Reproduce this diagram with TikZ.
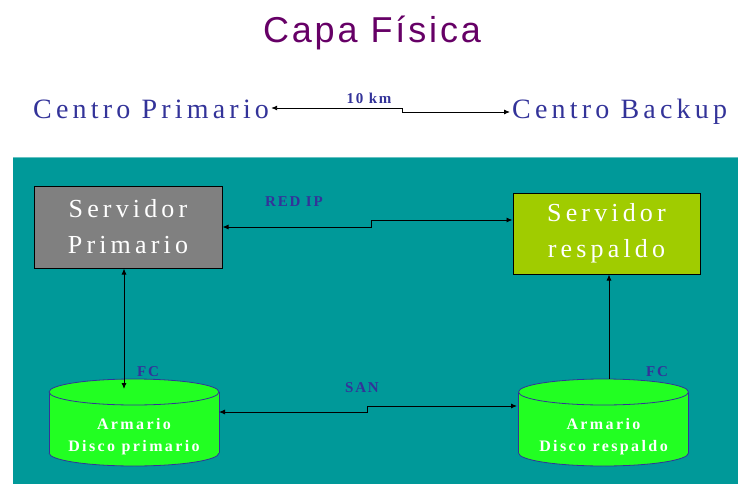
\documentclass[tikz,border=0pt]{standalone}
\usepackage{fontspec}
\setmainfont{Liberation Serif}
\newfontfamily\titlefont{Liberation Sans}[LetterSpace=8]
\newfontfamily\sitefont{Liberation Serif}[LetterSpace=15]
\newfontfamily\serverfont{Liberation Serif}[LetterSpace=16]
\newfontfamily\diskfont{Liberation Serif}[LetterSpace=15]
\newfontfamily\tagfont{Liberation Serif}[LetterSpace=12]
\usetikzlibrary{arrows.meta}

\definecolor{tealbg}{RGB}{0,153,153}
\definecolor{titlepurple}{RGB}{102,0,102}
\definecolor{labelblue}{RGB}{51,51,153}
\definecolor{srvgray}{RGB}{128,128,128}
\definecolor{srvgreen}{RGB}{160,204,0}
\definecolor{diskgreen}{RGB}{34,255,34}

\tikzset{
  link/.style={line width=0.9pt, -{Latex[length=6pt,width=5pt]}},
  dbllink/.style={line width=0.9pt, {Latex[length=6pt,width=5pt]}-{Latex[length=6pt,width=5pt]}},
  site/.style={text=labelblue, inner sep=2pt, font=\sitefont\fontsize{28}{34}\selectfont},
  server/.style={draw=black, line width=1pt, text=white, align=center,
    minimum width=188, minimum height=82, font=\serverfont\fontsize{26}{36}\selectfont},
  diskline/.style={draw=labelblue, line width=0.8pt},
  disktext/.style={text=white, align=center, font=\diskfont\bfseries\fontsize{16}{22}\selectfont},
  tag/.style={text=labelblue, font=\tagfont\bfseries\fontsize{15}{17}\selectfont}
}

\begin{document}
\begin{tikzpicture}[x=1pt,y=-1pt]
  \useasboundingbox (0,0) rectangle (738,484);

% top
  \node (title) at (372,43) [anchor=base, text=titlepurple, font=\titlefont\fontsize{36}{40}\selectfont] {Capa Física};
  \node (cp) at (31,118) [site, anchor=base west] {Centro Primario};
  \node (cb) at (510,118) [site, anchor=base west] {Centro Backup};
  \node (km) at (369,104) [tag, anchor=base] {10 km};
  \draw [dbllink] (cp.east |- 0,108) -- (402,108) -- (402,112) -- (cb.west |- 0,112);

% site background
  \fill [tealbg] (13,157) rectangle (738,484);
  \draw [tealbg!60!white] (13,157.5) -- (738,157.5);

% servers
  \node (sp) at (128,227) [server, fill=srvgray] {Servidor\\Primario};
  \node (sr) at (606.5,233.5) [server, fill=srvgreen, minimum width=187, minimum height=81] {Servidor\\respaldo};
  \node (redip) at (294,206) [tag, anchor=base] {RED IP};
  \draw [dbllink] (sp.east |- 0,227) -- (371,227) -- (371,220) -- (sr.west |- 0,220);

% disks
  \foreach \cx in {134,603.5} {
    \fill [diskgreen] (\cx-85,392) rectangle (\cx+85,453);
    \fill [diskgreen] (\cx,453) ellipse [x radius=85, y radius=13];
    \begin{scope}
      \clip (\cx-87,453) rectangle (\cx+87,470);
      \draw [diskline] (\cx,453) ellipse [x radius=85, y radius=13];
    \end{scope}
    \draw [diskline] (\cx-85,392) -- (\cx-85,453) (\cx+85,392) -- (\cx+85,453);
    \draw [diskline, fill=diskgreen] (\cx,392) ellipse [x radius=85, y radius=13];
  }
  \coordinate (dptop) at (124,389);
  \coordinate (dpeast) at (219,412);
  \coordinate (drtop) at (609,379);
  \coordinate (drwest) at (517,406);
  \node (dp) at (134,437) [disktext] {Armario\\Disco primario};
  \node (dr) at (603.5,437) [disktext] {Armario\\Disco respaldo};
  \node (fcp) at (148,376) [tag, anchor=base] {FC};
  \node (fcr) at (657,376) [tag, anchor=base] {FC};
  \node (san) at (362,392) [tag, anchor=base] {SAN};

  \draw [dbllink] (sp.south -| dptop) -- (dptop);
  \draw [link] (drtop) -- (sr.south -| drtop);
  \draw [dbllink] (dpeast) -- (367,412) -- (367,406) -- (drwest);
\end{tikzpicture}
\end{document}
